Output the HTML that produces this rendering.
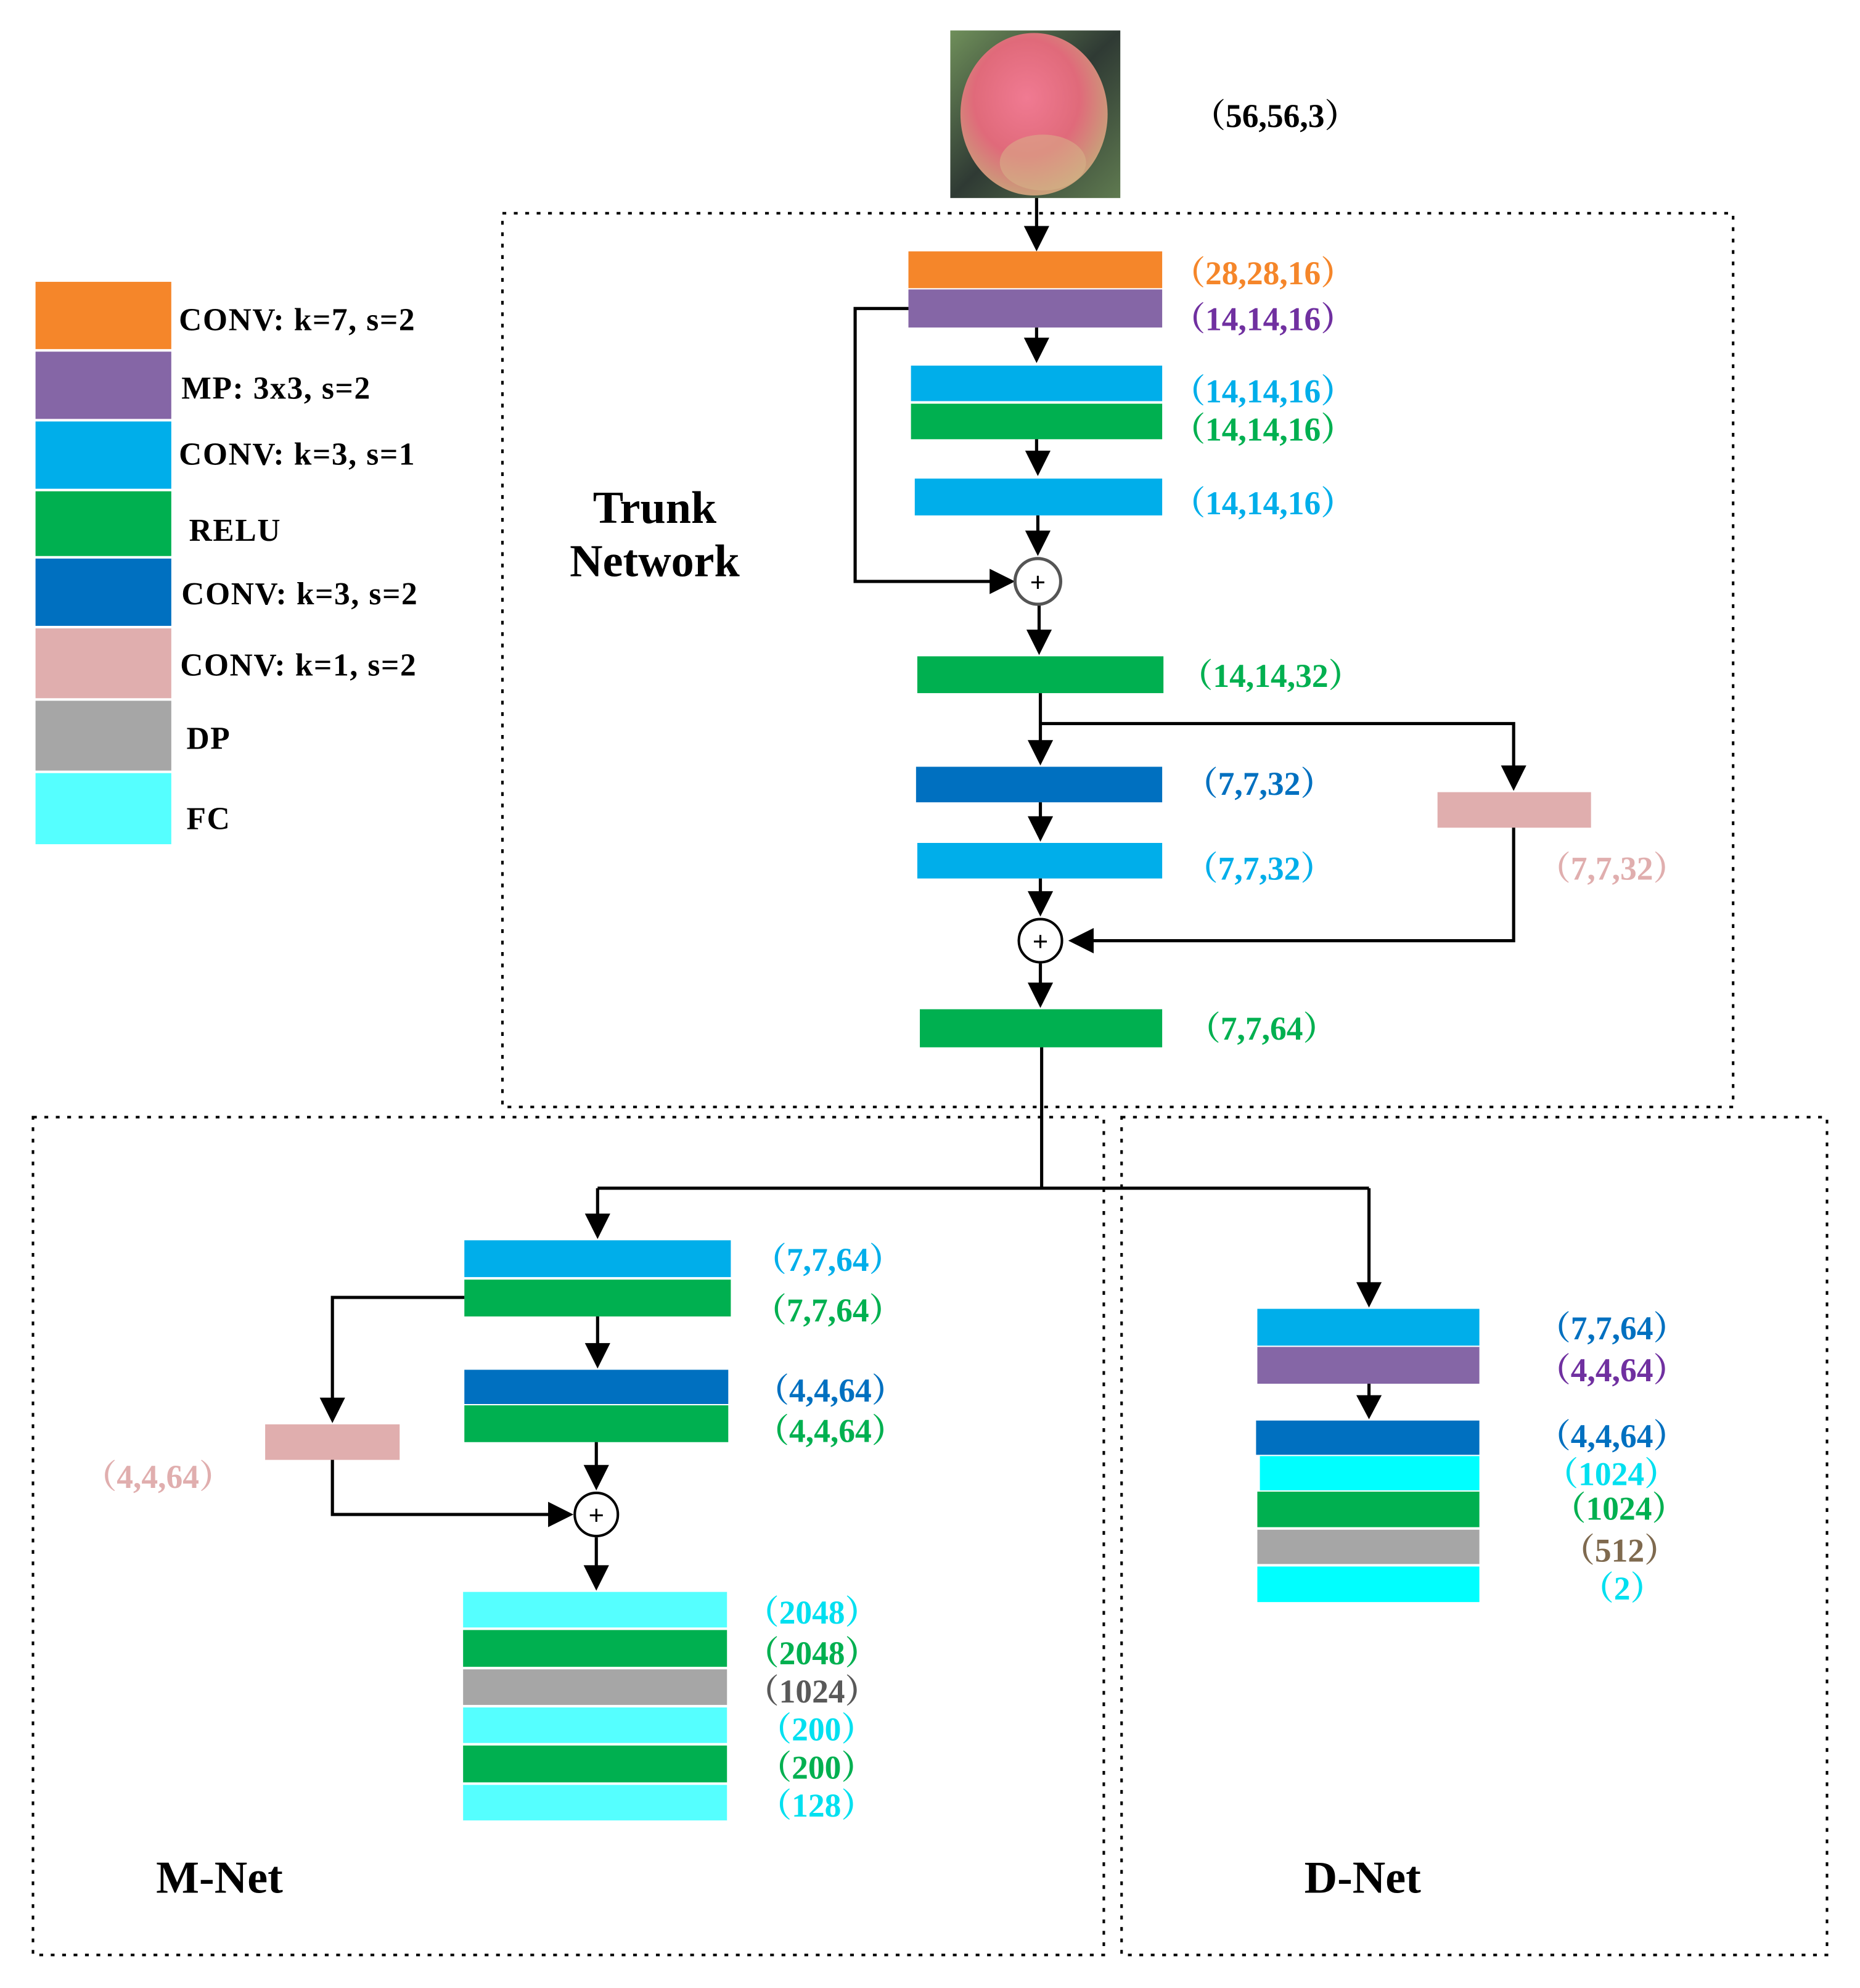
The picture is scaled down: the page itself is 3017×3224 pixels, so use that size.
<!DOCTYPE html>
<html><head><meta charset="utf-8">
<style>
html,body{margin:0;padding:0;background:#fff;}
svg{display:block;}
text{font-family:"Liberation Serif","Noto Serif CJK SC",serif;font-weight:bold;}
</style></head>
<body>
<svg width="3017" height="3224" viewBox="0 0 1466 1566" preserveAspectRatio="none" xmlns="http://www.w3.org/2000/svg">
<defs>
<radialGradient id="ap" cx="0.45" cy="0.4" r="0.6">
<stop offset="0" stop-color="#f07a92"/><stop offset="0.6" stop-color="#e06a7a"/><stop offset="1" stop-color="#c9a07a"/>
</radialGradient>
<linearGradient id="bg" x1="0" y1="0" x2="1" y2="1">
<stop offset="0" stop-color="#6f8f5a"/><stop offset="0.5" stop-color="#2f3a34"/><stop offset="1" stop-color="#5f7a50"/>
</linearGradient>
</defs>
<style>
.ln{stroke:#000;stroke-width:2.5;fill:none;}
.dash{stroke:#000;stroke-width:2;fill:none;stroke-dasharray:3,6;}
.l{font-size:26px;}
</style>
<rect width="1466" height="1566" fill="#fff"/>

<!-- apple -->
<rect x="749" y="24" width="134" height="132" fill="url(#bg)"/>
<ellipse cx="815" cy="90" rx="58" ry="64" fill="url(#ap)"/>
<ellipse cx="822" cy="128" rx="34" ry="22" fill="#d8b88a" opacity="0.5"/>
<text x="940" y="100" class="l" fill="#000">（56,56,3）</text>

<!-- dashed boxes -->
<rect x="396" y="168" width="970" height="704" class="dash"/>
<rect x="26" y="880" width="844" height="660" class="dash"/>
<rect x="884" y="880" width="556" height="660" class="dash"/>

<!-- legend -->
<rect x="28" y="222" width="107" height="53" fill="#F5862A"/>
<rect x="28" y="277" width="107" height="53" fill="#8566A6"/>
<rect x="28" y="332" width="107" height="53" fill="#00AEEA"/>
<rect x="28" y="387" width="107" height="51" fill="#00B050"/>
<rect x="28" y="440" width="107" height="53" fill="#0070C0"/>
<rect x="28" y="495" width="107" height="55" fill="#E0AEAE"/>
<rect x="28" y="552" width="107" height="55" fill="#A6A6A6"/>
<rect x="28" y="609" width="107" height="56" fill="#55FFFF"/>
<g font-size="25" fill="#000" letter-spacing="0.8">
<text x="141" y="260">CONV: k=7, s=2</text>
<text x="143" y="314">MP: 3x3, s=2</text>
<text x="141" y="366">CONV: k=3, s=1</text>
<text x="149" y="426">RELU</text>
<text x="143" y="476">CONV: k=3, s=2</text>
<text x="142" y="532">CONV: k=1, s=2</text>
<text x="147" y="590">DP</text>
<text x="147" y="653">FC</text>
</g>

<text x="516" y="412" font-size="36" text-anchor="middle" fill="#000">Trunk</text>
<text x="516" y="454" font-size="36" text-anchor="middle" fill="#000">Network</text>

<!-- trunk bars -->
<rect x="716" y="198" width="200" height="29" fill="#F5862A"/>
<rect x="716" y="228" width="200" height="30" fill="#8566A6"/>
<rect x="718" y="288" width="198" height="28" fill="#00AEEA"/>
<rect x="718" y="318" width="198" height="28" fill="#00B050"/>
<rect x="721" y="377" width="195" height="29" fill="#00AEEA"/>
<rect x="723" y="517" width="194" height="29" fill="#00B050"/>
<rect x="722" y="604" width="194" height="28" fill="#0070C0"/>
<rect x="723" y="664" width="193" height="28" fill="#00AEEA"/>
<rect x="1133" y="624" width="121" height="28" fill="#E0AEAE"/>
<rect x="725" y="795" width="191" height="30" fill="#00B050"/>

<text x="924" y="224" class="l" fill="#F5862A">（28,28,16）</text>
<text x="924" y="260" class="l" fill="#7030A0">（14,14,16）</text>
<text x="924" y="317" class="l" fill="#00AEEA">（14,14,16）</text>
<text x="924" y="347" class="l" fill="#00B050">（14,14,16）</text>
<text x="924" y="405" class="l" fill="#00AEEA">（14,14,16）</text>
<text x="930" y="541" class="l" fill="#00B050">（14,14,32）</text>
<text x="934" y="626" class="l" fill="#0070C0">（7,7,32）</text>
<text x="934" y="693" class="l" fill="#00AEEA">（7,7,32）</text>
<text x="1212" y="693" class="l" fill="#E0AEAE">（7,7,32）</text>
<text x="936" y="819" class="l" fill="#00B050">（7,7,64）</text>

<!-- trunk connectors -->
<g class="ln">
<path d="M817 156V180"/>
<path d="M817 258V268"/>
<path d="M817 346V357"/>
<path d="M818 406V420"/>
<path d="M716 243H674V458H782"/>
<path d="M819 476V497"/>
<path d="M820 546V584"/>
<path d="M820 570H1193V604"/>
<path d="M820 632V644"/>
<path d="M820 692V703"/>
<path d="M1193 652V741H860"/>
<path d="M820 759V775"/>
<path d="M821 825V936"/>
<path d="M471 936H1079"/>
<path d="M471 936V957"/>
<path d="M1079 936V1011"/>
</g>
<g fill="#000">
<path d="M807 178L827 178L817 198Z"/>
<path d="M807 266L827 266L817 286Z"/>
<path d="M808 355L828 355L818 375Z"/>
<path d="M808 418L828 418L818 438Z"/>
<path d="M780 448L780 468L800 458Z"/>
<path d="M809 496L829 496L819 516Z"/>
<path d="M810 583L830 583L820 603Z"/>
<path d="M1183 603L1203 603L1193 623Z"/>
<path d="M810 643L830 643L820 663Z"/>
<path d="M810 702L830 702L820 722Z"/>
<path d="M862 731L862 751L842 741Z"/>
<path d="M810 774L830 774L820 794Z"/>
<path d="M461 956L481 956L471 976Z"/>
<path d="M1069 1010L1089 1010L1079 1030Z"/>
</g>
<circle cx="818" cy="458" r="18" fill="#fff" stroke="#555" stroke-width="2.5"/>
<text x="818" y="466" font-size="22" text-anchor="middle" font-weight="normal" fill="#000">+</text>
<circle cx="820" cy="741" r="17" fill="#fff" stroke="#000" stroke-width="2"/>
<text x="820" y="749" font-size="22" text-anchor="middle" font-weight="normal" fill="#000">+</text>

<!-- M-Net -->
<rect x="366" y="977" width="210" height="29" fill="#00AEEA"/>
<rect x="366" y="1008" width="210" height="29" fill="#00B050"/>
<rect x="366" y="1079" width="208" height="27" fill="#0070C0"/>
<rect x="366" y="1107" width="208" height="29" fill="#00B050"/>
<rect x="209" y="1122" width="106" height="28" fill="#E0AEAE"/>
<rect x="365" y="1254" width="208" height="28" fill="#55FFFF"/>
<rect x="365" y="1284" width="208" height="29" fill="#00B050"/>
<rect x="365" y="1315" width="208" height="28" fill="#A6A6A6"/>
<rect x="365" y="1345" width="208" height="28" fill="#55FFFF"/>
<rect x="365" y="1375" width="208" height="29" fill="#00B050"/>
<rect x="365" y="1406" width="208" height="28" fill="#55FFFF"/>
<g class="ln">
<path d="M366 1022H262V1102"/>
<path d="M262 1150V1193H434"/>
<path d="M471 1037V1059"/>
<path d="M470 1136V1155"/>
<path d="M470 1211V1234"/>
</g>
<g fill="#000">
<path d="M252 1101L272 1101L262 1121Z"/>
<path d="M432 1183L432 1203L452 1193Z"/>
<path d="M461 1058L481 1058L471 1078Z"/>
<path d="M460 1154L480 1154L470 1174Z"/>
<path d="M460 1233L480 1233L470 1253Z"/>
</g>
<circle cx="470" cy="1193" r="17" fill="#fff" stroke="#000" stroke-width="2"/>
<text x="470" y="1201" font-size="22" text-anchor="middle" font-weight="normal" fill="#000">+</text>

<text x="594" y="1001" class="l" fill="#00AEEA">（7,7,64）</text>
<text x="594" y="1041" class="l" fill="#00B050">（7,7,64）</text>
<text x="596" y="1104" class="l" fill="#0070C0">（4,4,64）</text>
<text x="596" y="1136" class="l" fill="#00B050">（4,4,64）</text>
<text x="66" y="1172" class="l" fill="#E0AEAE">（4,4,64）</text>
<text x="588" y="1279" class="l" fill="#00E0F0">（2048）</text>
<text x="588" y="1311" class="l" fill="#00B050">（2048）</text>
<text x="588" y="1341" class="l" fill="#595959">（1024）</text>
<text x="598" y="1371" class="l" fill="#00E0F0">（200）</text>
<text x="598" y="1401" class="l" fill="#00B050">（200）</text>
<text x="598" y="1431" class="l" fill="#00E0F0">（128）</text>
<text x="123" y="1491" font-size="36" fill="#000">M-Net</text>

<!-- D-Net -->
<rect x="991" y="1031" width="175" height="29" fill="#00AEEA"/>
<rect x="991" y="1061" width="175" height="29" fill="#8566A6"/>
<rect x="990" y="1119" width="176" height="27" fill="#0070C0"/>
<rect x="993" y="1147" width="173" height="27" fill="#00FFFF"/>
<rect x="991" y="1175" width="175" height="28" fill="#00B050"/>
<rect x="991" y="1205" width="175" height="27" fill="#A6A6A6"/>
<rect x="991" y="1234" width="175" height="28" fill="#00FFFF"/>
<path class="ln" d="M1079 1090V1100"/>
<path d="M1069 1099L1089 1099L1079 1118Z" fill="#000"/>
<text x="1212" y="1055" class="l" fill="#0070C0">（7,7,64）</text>
<text x="1212" y="1088" class="l" fill="#7030A0">（4,4,64）</text>
<text x="1212" y="1140" class="l" fill="#0070C0">（4,4,64）</text>
<text x="1218" y="1170" class="l" fill="#00E0F0">（1024）</text>
<text x="1224" y="1197" class="l" fill="#00B050">（1024）</text>
<text x="1231" y="1230" class="l" fill="#7F6A4F">（512）</text>
<text x="1246" y="1260" class="l" fill="#00E0F0">（2）</text>
<text x="1028" y="1491" font-size="36" fill="#000">D-Net</text>
</svg>
</body></html>
